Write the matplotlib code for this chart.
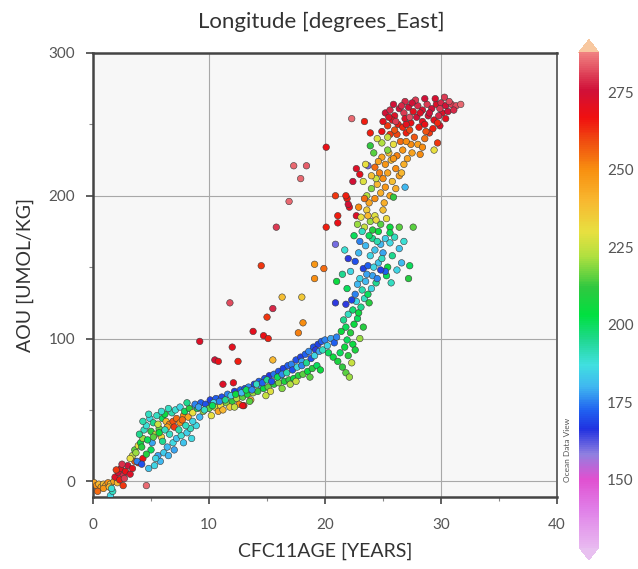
import matplotlib
matplotlib.use('Agg')
import matplotlib.pyplot as plt
import numpy as np
from matplotlib.colors import LinearSegmentedColormap, Normalize

plt.rcParams['font.family'] = ['Lato', 'DejaVu Sans']

# --- data: CFC11 age [years], AOU [umol/kg], longitude [deg E]
# near the origin
age_origin = [0.1, 0.3, 0.5, 0.7, 0.9, 1.1, 1.3, 1.5, 1.8, 2.1, 0.4, 0.9, 1.4,
              1.5, 1.7, 1.6, 1.9, 2.2, 2.4, 2.6, 2.8, 3.0, 2.3, 2.7, 3.2, 2.0,
              2.5, 3.4, 3.6, 2.6, 4.6, 3.9, 4.3]
aou_origin = [-1, -3, -2, -4, -2, -3, -1, -2, 0, -1, -7, -5, -4,
              -10, -7, -5, 3, 6, 9, 4, 7, 11, 1, 2, 5, 8,
              12, 9, 14, -3, -3, 13, 16]
lon_origin = [245, 250, 240, 245, 238, 242, 250, 236, 245, 240, 255, 248, 240,
              185, 190, 188, 272, 275, 270, 278, 268, 276, 266, 280, 272, 262,
              279, 270, 258, 262, 285, 265, 268]

# rising band 3-9 years
age_ramp = [3.4, 3.6, 3.9, 4.1, 4.3, 4.0, 4.4, 4.6, 4.3, 4.9, 5.2, 5.0, 5.4, 5.7,
            5.9, 5.5, 6.0, 6.3, 6.6, 6.9, 7.2, 7.5, 7.0, 7.8, 8.2, 6.8, 7.1, 7.5,
            7.9, 8.3, 8.6, 8.8, 6.2, 5.6,
            4.8, 5.3, 5.8, 5.6, 6.1, 6.4, 6.9, 7.2, 7.6, 8.1, 8.4, 8.9, 6.0, 6.6,
            7.4, 5.0, 4.6, 3.8, 4.2, 5.1, 9.0, 9.8,
            3.2, 3.7, 4.2, 4.7, 5.2, 5.7, 6.4, 7.7, 8.0, 8.6, 9.2, 5.4, 6.5, 7.0,
            7.8, 8.5, 6.2, 4.8, 5.9, 6.5, 8.1]
aou_ramp = [18, 22, 25, 27, 30, 33, 36, 39, 42, 44, 41, 35, 33, 37,
            31, 46, 44, 42, 40, 42, 44, 41, 38, 46, 45, 48, 50, 52,
            49, 51, 48, 53, 47, 40,
            9, 11, 14, 18, 20, 24, 27, 30, 32, 34, 37, 39, 28, 33,
            36, 22, 19, 14, 12, 27, 51, 53,
            16, 20, 24, 29, 31, 34, 38, 43, 39, 42, 45, 16, 18, 22,
            27, 30, 36, 47, 49, 51, 55]
lon_ramp = [225, 215, 230, 205, 220, 195, 190, 188, 192, 186, 195, 210, 225, 215,
            232, 190, 200, 240, 252, 258, 255, 250, 262, 250, 245, 192, 188, 185,
            200, 210, 230, 190, 205, 225,
            182, 185, 180, 178, 183, 180, 186, 182, 188, 184, 190, 186, 195, 190,
            192, 200, 210, 175, 170, 178, 200, 195,
            230, 220, 210, 200, 215, 205, 245, 255, 190, 185, 180, 185, 180, 178,
            182, 186, 190, 190, 188, 190, 195]

# two bands 9-20 years (blue upper, green lower)
age_mid = [8.8, 9.3, 9.7, 10.1, 10.6, 11.1, 11.6, 12.2, 12.7, 13.1, 13.4, 13.9,
           14.3, 14.8, 15.2, 15.6, 16.0, 16.4, 16.8, 17.1, 17.5, 17.9, 18.3, 18.6,
           19.0, 19.4, 19.7, 20.0, 19.2, 18.0, 16.2, 14.5, 12.9, 11.3, 10.4,
           9.5, 10.0, 10.5, 11.0, 11.5, 12.0, 12.4, 12.9, 13.3, 13.8, 14.2, 14.7,
           15.1, 15.6, 16.0, 16.5, 16.9, 17.3, 17.7, 18.1, 18.5, 18.9, 19.3, 11.8,
           13.6, 12.6, 10.8, 13.0, 15.3, 17.0,
           9.1, 9.6, 10.3, 10.9, 11.4, 11.9, 12.3, 12.8, 13.2, 13.7, 14.1, 14.6,
           15.0, 15.4, 15.9, 16.3, 16.7, 17.2, 17.6, 18.0, 18.4, 18.8, 19.1, 19.5,
           10.2, 11.2, 12.2, 13.5, 14.9, 16.3, 17.5, 18.7, 19.6]
aou_mid = [54, 55, 54, 57, 58, 59, 61, 63, 64, 65, 66, 68,
           70, 72, 74, 75, 77, 79, 81, 82, 85, 87, 89, 91,
           94, 96, 98, 99, 92, 84, 74, 67, 60, 56, 55,
           49, 51, 52, 53, 55, 56, 58, 59, 61, 62, 63, 65,
           66, 68, 69, 70, 71, 72, 74, 75, 77, 79, 81, 52,
           57, 54, 49, 53, 63, 68,
           52, 50, 53, 56, 57, 60, 61, 62, 64, 64, 68, 69,
           71, 70, 73, 75, 76, 78, 80, 81, 83, 86, 88, 91,
           46, 50, 52, 56, 60, 65, 70, 73, 78]
lon_mid = [175, 172, 170, 168, 172, 170, 175, 168, 172, 170, 176, 168,
           172, 170, 166, 174, 170, 168, 172, 175, 170, 168, 172, 176,
           170, 168, 172, 175, 165, 178, 180, 178, 180, 182, 185,
           220, 215, 225, 230, 218, 212, 222, 215, 208, 220, 212, 205,
           215, 210, 218, 208, 212, 205, 210, 215, 205, 210, 200, 235,
           240, 250, 245, 265, 228, 222,
           178, 190, 200, 175, 195, 185, 205, 180, 200, 176, 190, 172,
           195, 170, 200, 176, 192, 170, 186, 175, 195, 170, 185, 178,
           230, 240, 225, 215, 225, 218, 225, 215, 205]

# scattered points left of the main curve
age_out = [9.2, 12.0, 10.5, 10.8, 12.5, 11.2, 12.1, 13.8, 14.7, 15.1, 15.0, 15.5,
           11.8, 14.5, 15.5, 16.3, 18.0, 18.1, 17.7, 19.1, 19.1, 19.9, 20.9, 15.8,
           16.9, 17.3, 18.4, 17.9, 20.1, 20.9, 21.9, 22.1, 21.1, 21.1, 20.1, 22.7,
           22.4, 22.7, 23.0, 23.7, 22.3, 23.4, 22.0, 21.8, 12.9]
aou_out = [98, 94, 85, 84, 84, 68, 69, 105, 102, 100, 115, 121,
           125, 151, 85, 129, 129, 111, 104, 152, 142, 149, 125, 178,
           196, 221, 221, 212, 234, 200, 198, 192, 186, 181, 178, 186,
           210, 219, 215, 221, 254, 252, 194, 200, 53]
lon_out = [272, 270, 275, 268, 265, 272, 270, 270, 268, 265, 262, 278,
           282, 262, 240, 238, 236, 250, 252, 248, 250, 255, 165, 280,
           285, 285, 284, 285, 268, 262, 265, 270, 265, 268, 265, 272,
           275, 272, 270, 160, 285, 265, 275, 265, 268]

# elbow 20-24 years
age_elbow = [19.8, 20.2, 20.5, 20.8, 21.0, 20.3, 20.7, 21.1, 21.5, 21.8, 22.1,
             21.3, 21.7, 22.0, 22.3, 21.9, 22.4, 22.6, 21.4, 21.8, 22.2, 22.5,
             22.8, 21.6, 22.0, 22.4, 22.9, 23.1, 23.3, 23.0, 22.7, 23.4, 23.7,
             23.2, 22.6, 23.8, 24.0, 21.8, 22.3]
aou_elbow = [92, 95, 100, 97, 101, 90, 87, 84, 80, 76, 73,
             90, 94, 88, 83, 99, 96, 92, 105, 108, 104, 110,
             114, 113, 117, 120, 118, 122, 108, 100, 126, 128, 131,
             134, 131, 125, 135, 124, 127]
lon_elbow = [190, 185, 178, 172, 175, 200, 205, 208, 212, 215, 220,
             200, 205, 210, 225, 200, 205, 208, 205, 200, 210, 205,
             200, 195, 190, 198, 205, 195, 210, 220, 185, 190, 200,
             192, 175, 210, 185, 165, 168]

# 135-195 umol/kg, cyan/blue/yellow mix
age_upmid = [21.7, 20.9, 22.0, 22.6, 23.3, 23.7, 24.6, 25.4, 25.3, 23.0, 23.5,
             24.1, 24.4, 23.9, 24.3, 24.8, 25.2, 25.6, 26.0, 25.0, 26.4, 26.8,
             23.5, 24.1, 24.6, 23.0, 22.5, 26.6, 27.3, 27.2, 27.6, 25.2, 24.8,
             23.4, 23.9, 24.3, 23.1, 24.8, 25.3, 23.6, 24.1, 25.0, 22.8, 25.6,
             21.0, 21.5, 22.2, 22.9, 23.6, 24.2, 24.9, 25.8, 26.2, 24.5, 25.7,
             22.8, 21.9, 23.2, 23.8, 24.5, 25.6, 26.4, 24.4, 23.7]
aou_upmid = [162, 166, 156, 154, 149, 151, 153, 150, 144, 142, 140,
             144, 139, 158, 162, 166, 170, 167, 171, 160, 163, 168,
             165, 170, 175, 168, 172, 153, 151, 142, 178, 147, 148,
             178, 182, 186, 185, 180, 184, 190, 176, 190, 180, 178,
             140, 145, 147, 160, 145, 150, 156, 158, 148, 142, 139,
             138, 135, 175, 172, 168, 174, 178, 183, 186]
lon_upmid = [188, 160, 165, 170, 168, 172, 182, 205, 200, 185, 180,
             178, 195, 185, 182, 180, 184, 186, 190, 178, 182, 188,
             180, 195, 205, 175, 200, 180, 200, 210, 215, 172, 168,
             225, 220, 228, 230, 215, 232, 235, 210, 238, 220, 205,
             205, 195, 185, 180, 178, 185, 190, 195, 185, 175, 190,
             180, 200, 190, 200, 192, 200, 215, 232, 240]

# orange body 190-245 umol/kg
age_upper = [23.8, 24.3, 24.8, 25.2, 25.6, 24.5, 25.0, 25.4, 25.8, 26.1, 24.7,
             25.2, 25.7, 26.1, 26.4, 26.8, 26.2, 25.5, 24.9, 24.3, 26.7, 27.1,
             27.4, 26.5, 25.9, 24.9, 25.4, 24.2, 23.9, 25.9, 26.9, 29.4, 29.7,
             29.9, 28.2, 28.0, 27.7, 28.6, 29.0, 27.0, 26.2, 25.6, 24.9, 23.6,
             24.0, 23.3, 24.4, 25.4,
             25.1, 22.9, 23.4, 24.0, 23.5, 24.6, 25.9, 26.6, 27.5, 28.4, 27.0,
             24.5, 23.9]
aou_upper = [195, 198, 202, 206, 200, 208, 212, 216, 210, 205, 216,
             222, 225, 219, 214, 222, 228, 230, 227, 220, 232, 226,
             236, 238, 236, 237, 232, 230, 235, 199, 206, 232, 237,
             249, 229, 236, 241, 240, 244, 244, 243, 243, 245, 200,
             205, 210, 212, 241,
             195, 192, 198, 214, 222, 224, 226, 216, 230, 234, 238,
             240, 244]
lon_upper = [245, 250, 242, 248, 245, 240, 250, 245, 238, 243, 252,
             248, 240, 250, 246, 242, 252, 238, 245, 255, 248, 245,
             250, 255, 230, 222, 218, 215, 212, 212, 180, 230, 262,
             272, 250, 246, 258, 254, 262, 265, 260, 262, 268, 222,
             218, 228, 226, 225,
             242, 250, 255, 238, 230, 245, 248, 240, 245, 250, 250,
             228, 265]

# red cluster at the top
age_top = [25.2, 25.6, 26.0, 26.4, 26.8, 27.2, 27.6, 28.0, 28.4, 28.8, 29.2,
           29.6, 30.0, 30.4, 30.9, 31.3, 31.7, 25.8, 26.3, 26.9, 27.4, 27.9,
           28.4, 28.9, 29.4, 25.4, 26.0, 26.7, 27.3, 28.1, 28.7, 29.3, 30.1,
           30.6, 29.8, 25.9, 26.9, 27.8, 28.6, 29.5, 30.3, 27.3, 26.1,
           25.0, 25.5, 26.6, 27.5, 28.2, 29.0, 29.9, 30.7, 31.1, 27.0, 28.6,
           29.7, 30.4]
aou_top = [258, 260, 256, 261, 258, 262, 259, 263, 260, 264, 261,
           264, 265, 263, 264, 263, 264, 253, 250, 254, 251, 255,
           252, 256, 253, 249, 246, 248, 246, 248, 245, 247, 258,
           259, 256, 264, 266, 267, 268, 268, 269, 255, 252,
           252, 255, 263, 265, 258, 258, 261, 266, 260, 250, 250,
           251, 254]
lon_top = [275, 278, 272, 276, 280, 275, 270, 278, 274, 280, 276,
           272, 278, 275, 280, 282, 285, 270, 266, 272, 268, 275,
           270, 274, 270, 262, 258, 264, 260, 266, 258, 265, 272,
           276, 278, 276, 278, 280, 276, 274, 280, 282, 280,
           270, 272, 278, 276, 272, 276, 280, 282, 278, 270, 268,
           264, 270]

age = np.concatenate([age_origin, age_ramp, age_mid, age_out, age_elbow,
                      age_upmid, age_upper, age_top])
aou = np.concatenate([aou_origin, aou_ramp, aou_mid, aou_out, aou_elbow,
                      aou_upmid, aou_upper, aou_top])
lon = np.concatenate([lon_origin, lon_ramp, lon_mid, lon_out, lon_elbow,
                      lon_upmid, lon_upper, lon_top])

cbar_ticks = [150, 175, 200, 225, 250, 275]

# ODV-like rainbow
stops = [128, 140, 150, 158, 166, 172, 180, 187, 195, 203, 212, 222, 230,
         240, 250, 259, 267, 276, 288]
cols = ['#e8b8f0', '#e080e8', '#e050d0', '#9080e0', '#2030e0', '#2060f0',
        '#40b8f0', '#40e0e0', '#20d890', '#00e040', '#30c840', '#b0e040',
        '#e8e040', '#f8b830', '#f89010', '#f05010', '#f01010', '#d01038',
        '#f08080']
cmap = LinearSegmentedColormap.from_list(
    'odv', [((s - stops[0]) / (stops[-1] - stops[0]), c) for s, c in zip(stops, cols)])
cmap.set_under('#e8c0f0')
cmap.set_over('#f8c8a0')
norm = Normalize(vmin=128, vmax=288)

fig = plt.figure(figsize=(6.38, 5.69), dpi=100)
ax = fig.add_axes([0.1458, 0.1265, 0.7273, 0.7804])
ax.set_facecolor('#f7f7f7')

sc = ax.scatter(age, aou, c=lon, cmap=cmap, norm=norm, s=22,
                edgecolors='#3a3a3a', linewidths=0.4, zorder=3)

ax.set_xlim(0, 40)
ax.set_ylim(-11, 300)
ax.set_xticks([0, 10, 20, 30, 40])
ax.set_yticks([0, 100, 200, 300])
ax.set_xticks([5, 15, 25, 35], minor=True)
ax.set_yticks([50, 150, 250], minor=True)
ax.grid(True, which='major', color='#a8a8a8', lw=0.8, zorder=1)
ax.tick_params(which='major', direction='out', length=5, width=1.2,
               color='#444444', labelsize=11, labelcolor='#555555')
ax.tick_params(which='minor', direction='out', length=3, width=0.8,
               color='#888888')
ax.tick_params(axis='x', pad=10)
ax.tick_params(axis='y', pad=8)
for side in ['left', 'bottom', 'top']:
    ax.spines[side].set_color('#444444')
    ax.spines[side].set_linewidth(1.8)
ax.spines['right'].set_color('#666666')
ax.spines['right'].set_linewidth(1.4)

ax.set_xlabel('CFC11AGE [YEARS]', fontsize=14, color='#333333', labelpad=8)
ax.set_ylabel('AOU [UMOL/KG]', fontsize=14, color='#333333', labelpad=10)
fig.text(0.503, 0.962, 'Longitude [degrees_East]', fontsize=16,
         color='#333333', ha='center', va='center')

cax = fig.add_axes([0.9075, 0.016, 0.031, 0.914])
cb = fig.colorbar(sc, cax=cax, extend='both', extendfrac=0.025)
cb.outline.set_visible(False)
cb.set_ticks(cbar_ticks)
cb.ax.tick_params(length=0, pad=6, labelsize=11, labelcolor='#555555')

fig.text(0.889, 0.21, 'Ocean Data View', rotation=90, fontsize=6,
         color='#555555', ha='center', va='center')

fig.savefig('out.png', dpi=100)
